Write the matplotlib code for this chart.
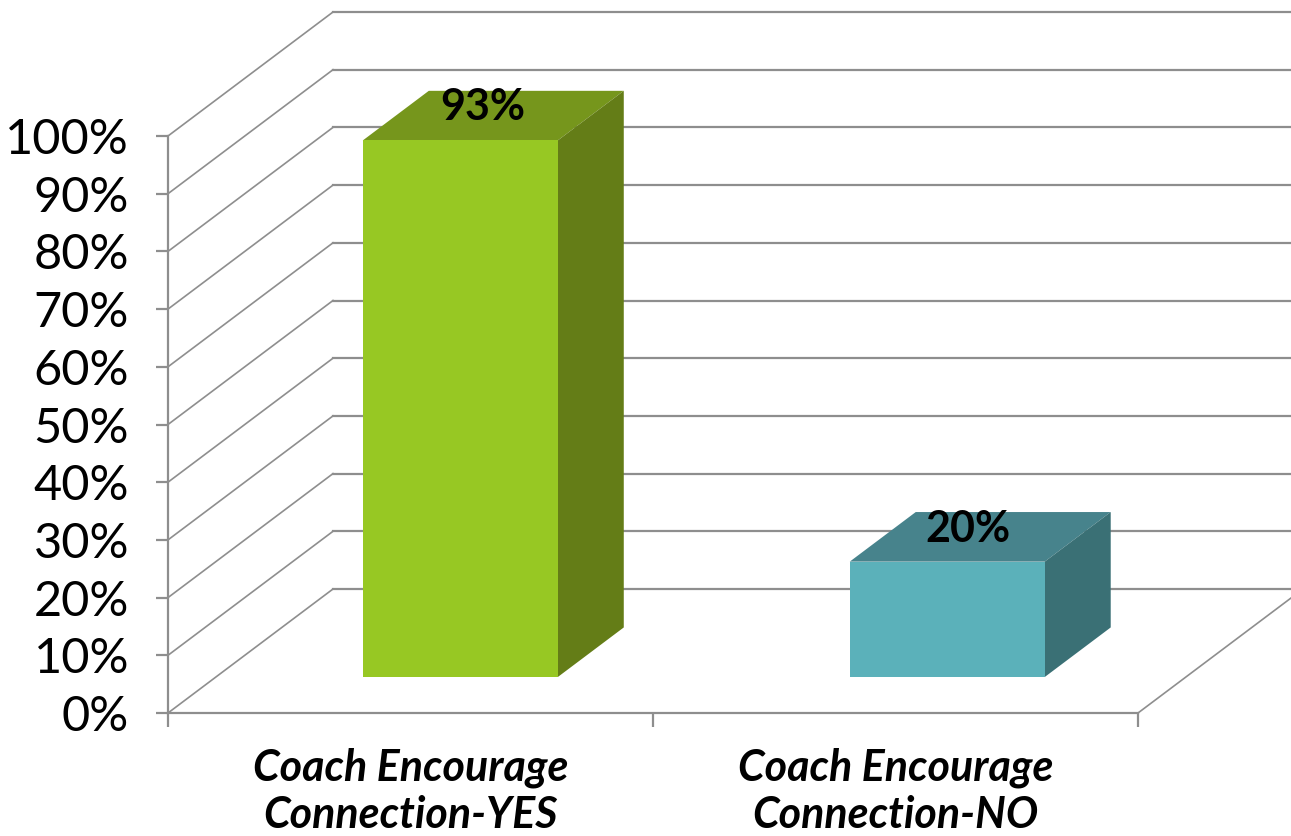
from matplotlib import pyplot as plt
from matplotlib.patches import Polygon

categories = ['Coach Encourage\nConnection-YES', 'Coach Encourage\nConnection-NO']
values = [93, 20]
value_labels = ['93%', '20%']
face_colors = ['#97C823', '#5BB1BA']
top_colors = ['#76961C', '#47838C']
side_colors = ['#647D17', '#3A7075']
y_ticks = list(range(0, 101, 10))

W, H = 1291, 836
LEFT, RIGHT, TOP, BOTTOM = 168, 1138, 136, 713
# depth of the chart box, in data units per unit of depth
DX = 165 / ((RIGHT - LEFT) / 2)
DY = 124 / ((BOTTOM - TOP) / 100)
GRID = '#8E8E8E'


def project(x, y, d):
    return x + d * DX, y + d * DY


plt.rcParams['font.family'] = 'Lato'

fig = plt.figure(figsize=(W / 100, H / 100), dpi=100)
ax = fig.add_axes([LEFT / W, 1 - BOTTOM / H, (RIGHT - LEFT) / W, (BOTTOM - TOP) / H])
ax.set_xlim(0, 2)
ax.set_ylim(0, 100)

# back wall and side wall lines
for v in y_ticks:
    x0, y0 = project(0, v, 0)
    x1, y1 = project(0, v, 1)
    x2, y2 = project(2, v, 1)
    ax.plot([x0, x1], [y0, y1], color=GRID, lw=1.2, clip_on=False, zorder=1)
    ax.plot([x1, x2], [y1, y2], color=GRID, lw=1.6, clip_on=False, zorder=1)

# right floor edge
x1, y1 = project(2, 0, 1)
ax.plot([2, x1], [0, y1], color=GRID, lw=1.2, clip_on=False, zorder=1)

# bars
bar_width = 0.402
bar_shift = [0.004, 0.008]
d0, d1 = 0.29, 0.69
for i, v in enumerate(values):
    xl = i + 0.5 - bar_width / 2 + bar_shift[i]
    xr = xl + bar_width
    front = [project(xl, 0, d0), project(xr, 0, d0), project(xr, v, d0), project(xl, v, d0)]
    top = [project(xl, v, d0), project(xr, v, d0), project(xr, v, d1), project(xl, v, d1)]
    side = [project(xr, 0, d0), project(xr, 0, d1), project(xr, v, d1), project(xr, v, d0)]
    ax.add_patch(Polygon(top, closed=True, fc=top_colors[i], ec='none', clip_on=False, zorder=3))
    ax.add_patch(Polygon(side, closed=True, fc=side_colors[i], ec='none', clip_on=False, zorder=3))
    ax.add_patch(Polygon(front, closed=True, fc=face_colors[i], ec='none', clip_on=False, zorder=4))
    ax.annotate(value_labels[i], project(i + 0.5, v, (d0 + d1) / 2), xytext=(-6, 6),
                textcoords='offset points', ha='center', va='center', fontsize=31,
                fontweight='bold', color='black', zorder=5, annotation_clip=False)

for s in ['top', 'right']:
    ax.spines[s].set_visible(False)
for s in ['left', 'bottom']:
    ax.spines[s].set_color(GRID)
    ax.spines[s].set_linewidth(1.6)

ax.set_yticks(y_ticks)
ax.set_yticklabels([str(v) + '%' for v in y_ticks], fontsize=35)
ax.set_xticks([0, 1, 2])
ax.set_xticklabels([])
ax.set_xticks([0.5, 1.5], minor=True)
ax.set_xticklabels(categories, minor=True, fontsize=31, fontweight='bold',
                   fontstyle='italic', linespacing=1.2)
ax.tick_params(axis='y', length=8.5, width=1.6, color=GRID, pad=19.5)
ax.tick_params(axis='x', which='major', length=10, width=1.6, color=GRID)
ax.tick_params(axis='x', which='minor', length=0, pad=25)

fig.savefig('out.png', dpi=100)
